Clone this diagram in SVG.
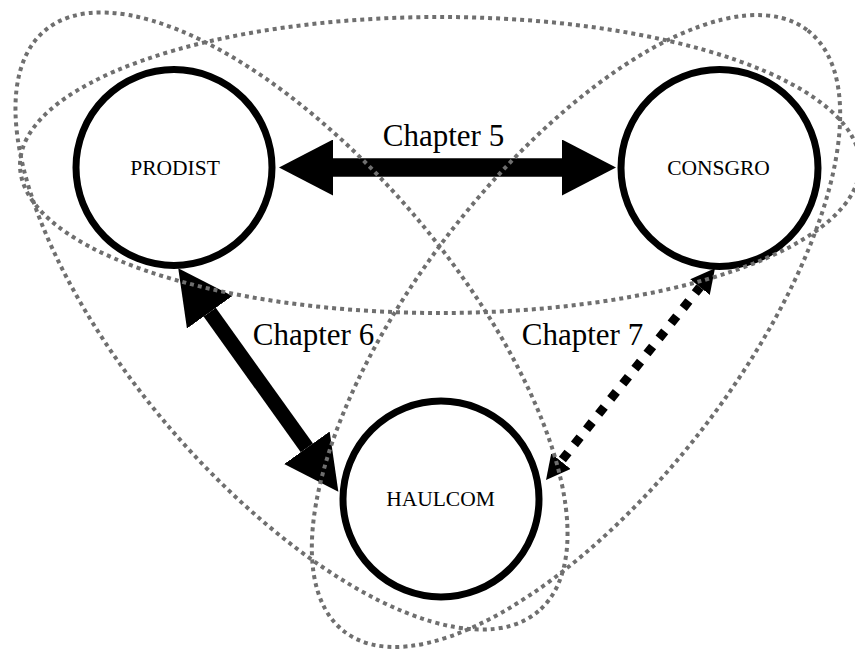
<svg xmlns="http://www.w3.org/2000/svg" width="855" height="651" viewBox="0 0 855 651">
<style>
.node circle{fill:#fff;stroke:#000;stroke-width:7}
.node text{font-family:"Liberation Serif","Times New Roman",serif;font-size:21.5px;text-anchor:middle;fill:#000}
.lbl{font-family:"Liberation Serif","Times New Roman",serif;font-size:31px;text-anchor:middle;fill:#000}
.region{fill:none;stroke:#6f6f6f;stroke-width:4;stroke-dasharray:4 4}
.thick{stroke:#000;fill:none;marker-start:url(#big);marker-end:url(#big)}
.dash{stroke:#000;fill:none;stroke-width:9;stroke-dasharray:9 10.37;stroke-dashoffset:1.5;marker-start:url(#small);marker-end:url(#small)}
</style>
<defs>
<marker id="big" markerUnits="userSpaceOnUse" markerWidth="54" markerHeight="56" viewBox="0 0 54 56" refX="0" refY="28" orient="auto-start-reverse"><path d="M0,0 L54,28 L0,56 z" fill="#000"/></marker>
<marker id="small" markerUnits="userSpaceOnUse" markerWidth="24" markerHeight="25" viewBox="0 0 24 25" refX="0" refY="12.5" orient="auto-start-reverse"><path d="M0,0 L24,12.5 L0,25 z" fill="#000"/></marker>
</defs>
<rect width="855" height="651" fill="#fff"/>
<g id="connectors">
<line class="thick" x1="333" y1="167.5" x2="562" y2="167.5" stroke-width="18.5"/>
<line class="thick" x1="209.7" y1="312.2" x2="306.9" y2="447.8" stroke-width="15"/>
<line class="dash" x1="700" y1="287.1" x2="561" y2="461.2"/>
</g>
<g id="labels">
<text class="lbl" x="443.5" y="146">Chapter 5</text>
<text class="lbl" x="313.5" y="345">Chapter 6</text>
<text class="lbl" x="582.5" y="345">Chapter 7</text>
</g>
<g id="PRODIST" class="node"><circle cx="174" cy="167.5" r="98"/><text x="175" y="175">PRODIST</text></g>
<g id="CONSGRO" class="node"><circle cx="719.5" cy="168" r="98.5"/><text x="718.5" y="174.5">CONSGRO</text></g>
<g id="HAULCOM" class="node"><circle cx="441" cy="499" r="98"/><text x="440.5" y="506">HAULCOM</text></g>
<g id="regions">
<ellipse class="region" cx="440" cy="165" rx="420" ry="148"/>
<ellipse class="region" cx="291.5" cy="321" rx="381" ry="162" transform="rotate(49.6 291.5 321)"/>
<ellipse class="region" cx="576" cy="331" rx="379.5" ry="160" transform="rotate(-52.35 576 331)"/>
</g>
</svg>
